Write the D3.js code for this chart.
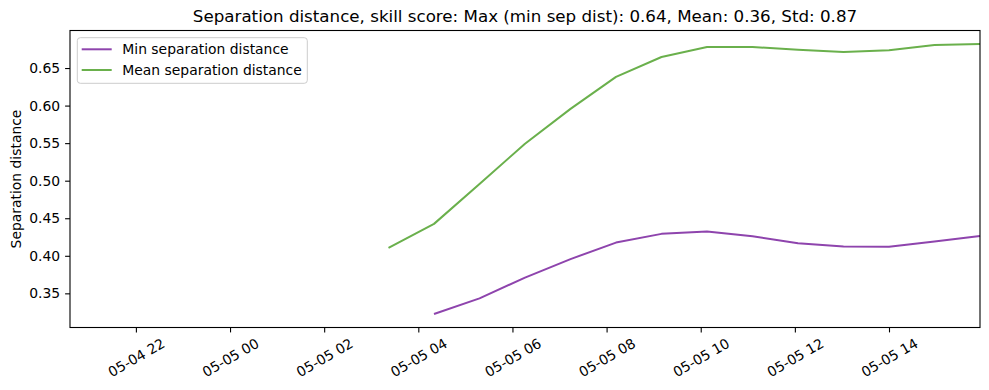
<!DOCTYPE html>
<html>
<head>
<meta charset="utf-8">
<style>
body { margin: 0; background: #fff; }
text { font-family: "DejaVu Sans", sans-serif; fill: #000; }
.axis path, .axis line { stroke: #000; stroke-width: 1.1px; }
</style>
<script src="https://cdn.jsdelivr.net/npm/d3@7"></script>
</head>
<body>
<script>

// sample times (every ~58 min)
var times = ["2024-05-05T03:22Z", "2024-05-05T04:20Z", "2024-05-05T05:18Z", "2024-05-05T06:16Z",
             "2024-05-05T07:14Z", "2024-05-05T08:12Z", "2024-05-05T09:10Z", "2024-05-05T10:08Z",
             "2024-05-05T11:06Z", "2024-05-05T12:04Z", "2024-05-05T13:02Z", "2024-05-05T14:00Z",
             "2024-05-05T14:58Z", "2024-05-05T15:56Z"];

var minSep  = [null, 0.3225, 0.3433, 0.371, 0.3956, 0.4176, 0.4292, 0.4323,
               0.426, 0.4167, 0.4123, 0.4119, 0.4189, 0.4265];
var meanSep = [0.4105, 0.4425, 0.4956, 0.5492, 0.5956, 0.6383, 0.6647, 0.678,
               0.678, 0.6745, 0.6713, 0.6736, 0.6807, 0.682];

var xDomain = ["2024-05-04T20:36Z", "2024-05-05T15:56Z"];
var yTicks = [0.35, 0.40, 0.45, 0.50, 0.55, 0.60, 0.65];

var seriesNames  = ["Min separation distance", "Mean separation distance"];
var seriesColors = ["#8e44ad", "#6ab04c"];

var width = 989, height = 390;
var margin = {top: 30.5, right: 9, bottom: 62.5, left: 70};

var svg = d3.select("body").append("svg")
    .attr("width", width)
    .attr("height", height);

var x = d3.scaleUtc()
    .domain(xDomain.map(d => new Date(d)))
    .range([margin.left, width - margin.right]);

var allVals = minSep.concat(meanSep).filter(v => v != null);
var lo = d3.min(allVals), hi = d3.max(allVals), pad = (hi - lo) * 0.05;
var y = d3.scaleLinear()
    .domain([lo - pad, hi + pad])
    .range([height - margin.bottom, margin.top]);

var series = [minSep, meanSep];

var line = d3.line()
    .defined(d => d.v != null)
    .x(d => x(d.t))
    .y(d => y(d.v));

series.forEach(function(vals, i) {
  var pts = vals.map((v, j) => ({t: new Date(times[j]), v: v}));
  svg.append("path")
      .datum(pts)
      .attr("fill", "none")
      .attr("stroke", seriesColors[i])
      .attr("stroke-width", 2)
      .attr("stroke-linejoin", "round")
      .attr("d", line);
});

// x axis
var xAxis = svg.append("g")
    .attr("class", "axis")
    .attr("transform", "translate(0," + (height - margin.bottom) + ")")
    .call(d3.axisBottom(x)
        .ticks(d3.utcHour.every(2))
        .tickFormat(d3.utcFormat("%m-%d %H"))
        .tickSizeOuter(0)
        .tickSize(4.9));
xAxis.select(".domain").remove();
xAxis.selectAll("text")
    .attr("font-size", "13.9px")
    .attr("font-family", "DejaVu Sans")
    .attr("text-anchor", "middle")
    .attr("dy", null)
    .attr("dominant-baseline", "central")
    .attr("y", 30)
    .attr("transform", "rotate(-30,0,30)");

// y axis
var yAxis = svg.append("g")
    .attr("class", "axis")
    .attr("transform", "translate(" + margin.left + ",0)")
    .call(d3.axisLeft(y)
        .tickValues(yTicks)
        .tickFormat(d3.format(".2f"))
        .tickSize(4.9)
        .tickPadding(4.9));
yAxis.select(".domain").remove();
yAxis.selectAll("text")
    .attr("font-size", "13.9px")
    .attr("font-family", "DejaVu Sans");

// frame
svg.append("rect")
    .attr("x", margin.left)
    .attr("y", margin.top)
    .attr("width", width - margin.left - margin.right)
    .attr("height", height - margin.top - margin.bottom)
    .attr("fill", "none")
    .attr("stroke", "#000")
    .attr("stroke-width", 1.1);

// title
svg.append("text")
    .attr("x", (margin.left + width - margin.right) / 2)
    .attr("y", 22)
    .attr("text-anchor", "middle")
    .attr("font-size", "16.7px")
    .text("Separation distance, skill score: Max (min sep dist): 0.64, Mean: 0.36, Std: 0.87");

// y label
svg.append("text")
    .attr("transform", "translate(21," + ((margin.top + height - margin.bottom) / 2) + ") rotate(-90)")
    .attr("text-anchor", "middle")
    .attr("font-size", "13.9px")
    .text("Separation distance");

// legend
var legend = svg.append("g");
legend.append("rect")
    .attr("x", 77.3)
    .attr("y", 37.7)
    .attr("width", 230)
    .attr("height", 45.6)
    .attr("rx", 3)
    .attr("fill", "#fff")
    .attr("fill-opacity", 0.8)
    .attr("stroke", "#cccccc")
    .attr("stroke-width", 1);

seriesNames.forEach(function(name, i) {
  var ly = 49.3 + i * 20.7;
  legend.append("line")
      .attr("x1", 81.7).attr("x2", 111.7)
      .attr("y1", ly).attr("y2", ly)
      .attr("stroke", seriesColors[i])
      .attr("stroke-width", 2);
  legend.append("text")
      .attr("x", 122.3)
      .attr("y", ly + 5)
      .attr("font-size", "13.9px")
      .text(name);
});

</script>
</body>
</html>
